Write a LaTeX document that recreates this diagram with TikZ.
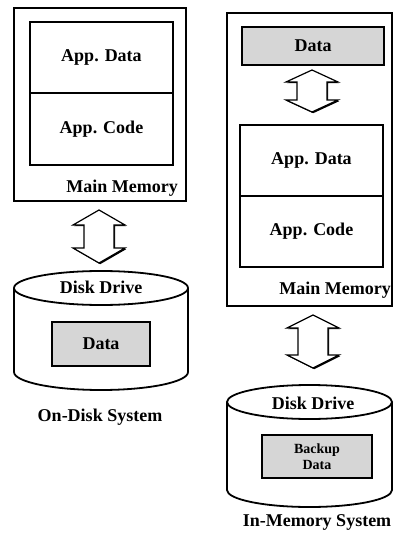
\documentclass[tikz,border=0pt]{standalone}
\usepackage{fontspec}
\setmainfont{Liberation Serif}
\tikzset{
  lbl/.style={font=\bfseries\fontsize{18bp}{20bp}\selectfont, inner sep=0pt},
  smalllbl/.style={font=\bfseries\fontsize{14bp}{15.5bp}\selectfont, align=center, inner sep=0pt},
  membox/.style={draw, line width=1.8bp, inner sep=0pt, outer sep=0pt},
  stackbox/.style={draw, line width=1.8bp, inner sep=0pt, outer sep=0pt,
    font=\bfseries\fontsize{18bp}{20bp}\selectfont},
  topbox/.style={stackbox, line width=2.8bp},
  graybox/.style={draw, line width=1.2bp, fill=black!16, inner sep=0pt, outer sep=0pt},
  disk/.style={line width=1.8bp},
  % hollow up-down block arrow: #1 = half length, #2 = head length
  pics/updown/.style 2 args={code={
    \fill[black] ([shift={(1.2,1.2)}]0,-#1) -- ([shift={(1.2,1.2)}]26,-#1+#2) -- ([shift={(1.2,1.2)}]15,-#1+#2)
      -- ([shift={(1.2,1.2)}]15,#1-#2) -- ([shift={(1.2,1.2)}]26,#1-#2) -- ([shift={(1.2,1.2)}]0,#1)
      -- ([shift={(1.2,1.2)}]-26,#1-#2) -- ([shift={(1.2,1.2)}]-15,#1-#2) -- ([shift={(1.2,1.2)}]-15,-#1+#2)
      -- ([shift={(1.2,1.2)}]-26,-#1+#2) -- cycle;
    \filldraw[fill=white, line width=1.2bp, line join=miter]
      (0,-#1) -- (26,-#1+#2) -- (15,-#1+#2) -- (15,#1-#2) -- (26,#1-#2) -- (0,#1)
      -- (-26,#1-#2) -- (-15,#1-#2) -- (-15,-#1+#2) -- (-26,-#1+#2) -- cycle;
  }}
}
\begin{document}
\begin{tikzpicture}[x=1bp, y=-1bp]
\useasboundingbox (0,0) rectangle (395,534);

% ---------- on-disk system ----------
\node[membox, minimum width=172bp, minimum height=193bp] (lmem) at (100,104.5) {};
\node[topbox, minimum width=143bp, minimum height=71bp] (lappdata) at (101.5,57.5) {App. Data};
\node[stackbox, minimum width=143bp, minimum height=72bp] (lappcode) at (101.5,129) {App. Code};
\node[lbl, anchor=east] (lmemlbl) at (178,188) {Main Memory};

\pic at (99,236.5) {updown={26.5}{15}};

% disk drive cylinder
\draw[disk] (101,288) ellipse [x radius=87, y radius=17];
\draw[disk] (14,288) -- (14,372) arc[start angle=180, end angle=0, x radius=87, y radius=18] -- (188,288);
\node[lbl] (ldisk) at (101,287) {Disk Drive};
\node[graybox, minimum width=98bp, minimum height=44bp, lbl, draw, fill=black!16, line width=1.2bp] (ldata) at (101,344) {Data};
\node[lbl] (lsys) at (100,417) {On-Disk System};

% ---------- in-memory system ----------
\node[membox, minimum width=165bp, minimum height=293bp] (rmem) at (309.5,159.5) {};
\node[graybox, minimum width=142bp, minimum height=38bp, lbl, draw, fill=black!16, line width=1.2bp] (rdata) at (313,46) {Data};
\pic at (312,91) {updown={21}{12}};
\node[topbox, minimum width=143bp, minimum height=71bp] (rappdata) at (311.5,160.5) {App. Data};
\node[stackbox, minimum width=143bp, minimum height=71bp] (rappcode) at (311.5,231.5) {App. Code};
\node[lbl, anchor=east] (rmemlbl) at (391,290) {Main Memory};

\pic at (313,341.5) {updown={26.5}{13}};

% disk drive cylinder
\draw[disk] (309.5,402) ellipse [x radius=82.5, y radius=17];
\draw[disk] (227,402) -- (227,490) arc[start angle=180, end angle=0, x radius=82.5, y radius=17] -- (392,402);
\node[lbl] (rdisk) at (313,403) {Disk Drive};
\node[graybox, minimum width=110bp, minimum height=43bp, smalllbl, draw, fill=black!16, line width=1.2bp] (rbackup) at (317,456.5) {Backup\\Data};
\node[lbl] (rsys) at (317,522) {In-Memory System};
\end{tikzpicture}
\end{document}
